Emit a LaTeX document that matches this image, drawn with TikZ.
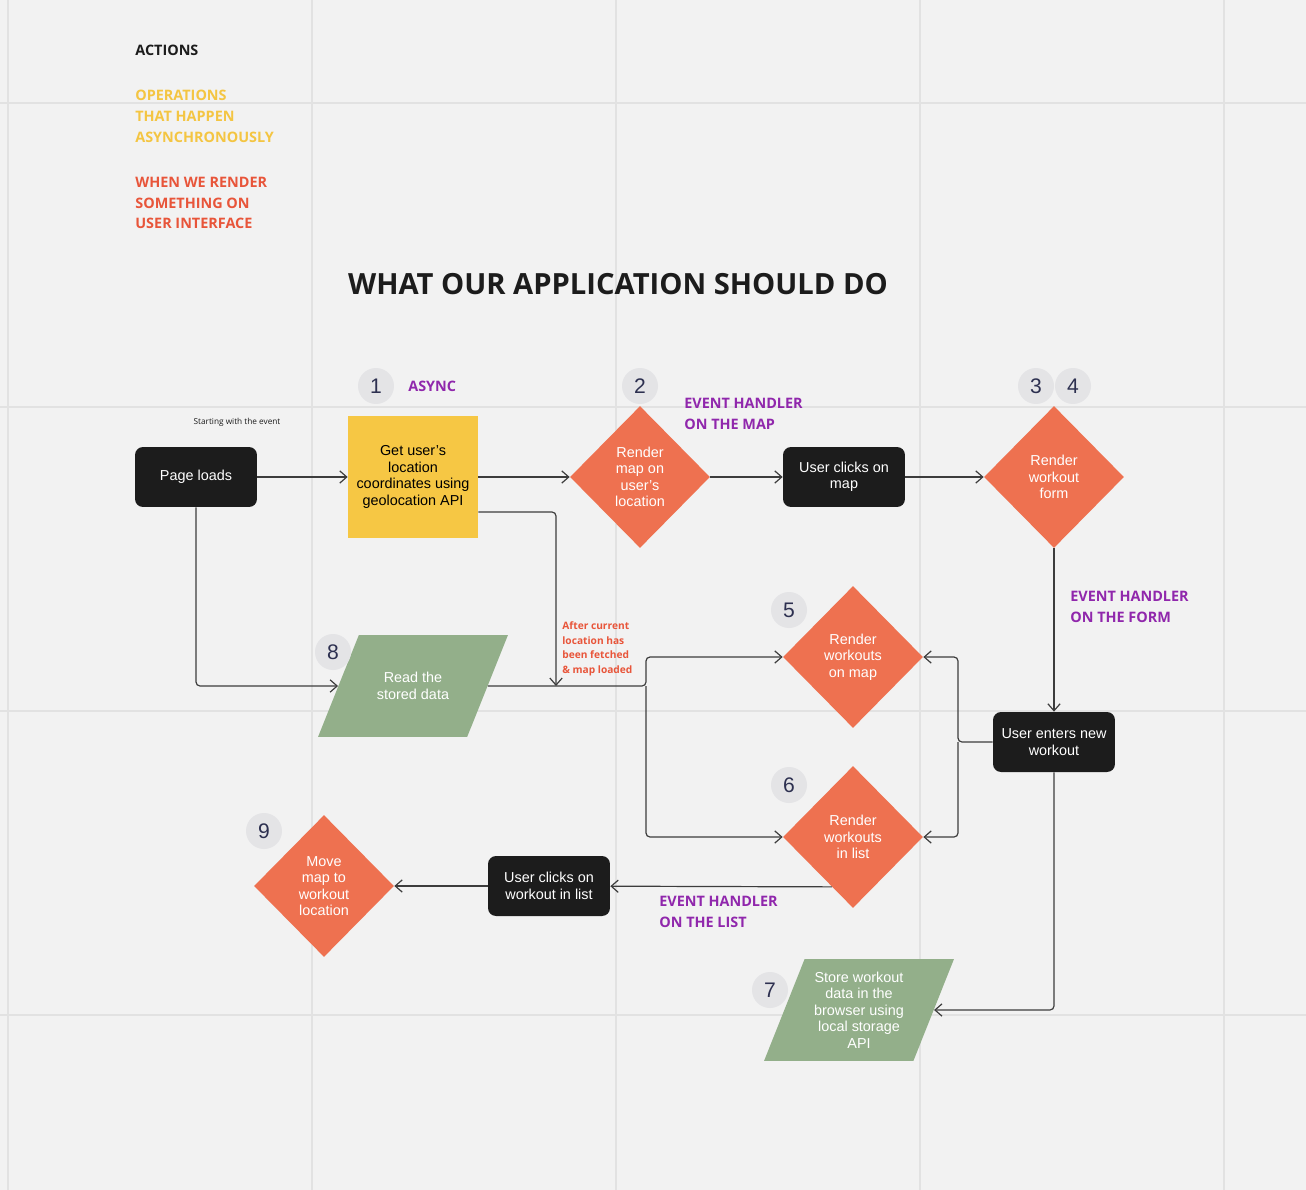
\documentclass[tikz,border=0pt]{standalone}
\usepackage{fontspec}
\setmainfont{Liberation Sans}
\newfontfamily\notefont{Open Sans}
\usetikzlibrary{positioning,shapes.geometric,arrows.meta}

\definecolor{boardbg}{HTML}{F2F2F2}
\definecolor{boardgrid}{HTML}{E2E2E2}
\definecolor{boxblack}{HTML}{1C1C1C}
\definecolor{asyncyellow}{HTML}{F6C744}
\definecolor{renderorange}{HTML}{EE7150}
\definecolor{storegreen}{HTML}{93AF8A}
\definecolor{handlerpurple}{HTML}{9027AC}
\definecolor{noteyellow}{HTML}{F4C542}
\definecolor{notered}{HTML}{E8553A}
\definecolor{numgrey}{HTML}{E4E4E6}
\definecolor{numnavy}{HTML}{2D3050}
\definecolor{flowgrey}{HTML}{3D3D3D}

\newcommand{\nodesize}{\fontsize{8.2}{9.4}\selectfont}
\newcommand{\notesize}{\notefont\bfseries\fontsize{8.2}{11.9}\selectfont}

\begin{document}
\begin{tikzpicture}[x=0.02cm, y=-0.02cm,
		>={Straight Barb[length=4pt,width=7pt]},
		gridline/.style={draw=boardgrid, line width=0.04cm},
		action/.style={rectangle, fill=boxblack, text=white, rounded corners=0.16cm, minimum width=2.44cm, minimum height=1.2cm, inner sep=0pt, align=center, font=\nodesize},
		async/.style={rectangle, fill=asyncyellow, text=black, minimum width=2.6cm, minimum height=2.44cm, inner sep=0pt, align=center, font=\nodesize},
		render/.style={diamond, fill=renderorange, text=white, minimum width=2.8cm, minimum height=2.84cm, inner sep=0pt, align=center, font=\nodesize},
		datastore/.style={trapezium, trapezium left angle=68, trapezium right angle=112, trapezium stretches body=true, fill=storegreen, text=white, minimum width=3.8cm, minimum height=2.04cm, inner xsep=0pt, align=center, font=\nodesize},
		stepnum/.style={circle, fill=numgrey, text=numnavy, minimum size=0.72cm, inner sep=0pt, font=\fontsize{12}{12}\selectfont},
		note/.style={anchor=west, inner sep=0pt, align=left, font=\notesize},
		flow/.style={->, draw=flowgrey, line width=0.024cm, rounded corners=0.08cm}]

	\fill[boardbg] (0,0) rectangle (1306,1190);
	\useasboundingbox (0,0) rectangle (1306,1190);
	\foreach \gx in {8,312,616,920,1224}
		\draw[gridline] (\gx,0) -- (\gx,1190);
	\foreach \gy in {103,407,711,1015}
		\draw[gridline] (0,\gy) -- (1306,\gy);

	\node[note, text=boxblack] (actions) at (135,50) {ACTIONS};
	\node[note, text=noteyellow] (asyncnote) at (135,116) {OPERATIONS\\THAT HAPPEN\\ASYNCHRONOUSLY};
	\node[note, text=notered] (rendernote) at (135,203) {WHEN WE RENDER\\SOMETHING ON\\USER INTERFACE};
	\node[font=\notefont\bfseries\fontsize{16.6}{20}\selectfont, text=boxblack] (title) at (618,284) {WHAT OUR APPLICATION SHOULD DO};

	\node[font=\notefont\fontsize{4.7}{5}\selectfont, text=boxblack] (start) at (237,422) {Starting with the event};
	\node[note, text=handlerpurple] (asynctag) at (408,386) {ASYNC};
	\node[note, text=handlerpurple] (maphandler) at (684,413.5) {EVENT HANDLER\\ON THE MAP};
	\node[note, text=handlerpurple] (formhandler) at (1070,606.5) {EVENT HANDLER\\ON THE FORM};
	\node[note, text=handlerpurple] (listhandler) at (659,911.5) {EVENT HANDLER\\ON THE LIST};
	\node[note, text=notered, font=\notefont\bfseries\fontsize{5.8}{8.3}\selectfont] (fetchnote) at (562,649) {After current\\location has\\been fetched\\\& map loaded};

	\node[action] (page) at (196,477) {Page loads};
	\node[async] (geo) at (413,477) {Get user's\\location\\coordinates using\\geolocation API};
	\node[render] (mapd) at (640,477) {Render\\map on\\user's\\location};
	\node[action] (click) at (844,477) {User clicks on\\map};
	\node[render] (formd) at (1054,477) {Render\\workout\\form};
	\node[action] (enter) at (1054,742) {User enters new\\workout};
	\node[render] (mapw) at (853,657) {Render\\workouts\\on map};
	\node[render] (listw) at (853,837) {Render\\workouts\\in list};
	\node[datastore, inner ysep=0.74cm] (read) at (413,686) {Read the\\stored data};
	\node[datastore, inner ysep=0.24cm] (store) at (859,1010) {Store workout\\data in the\\browser using\\local storage\\API};
	\node[action] (listclick) at (549,886) {User clicks on\\workout in list};
	\node[render] (movd) at (324,886) {Move\\map to\\workout\\location};

	\node[stepnum] (n1) at (376,386) {1};
	\node[stepnum] (n2) at (640,386) {2};
	\node[stepnum] (n3) at (1036,386) {3};
	\node[stepnum] (n4) at (1073,386) {4};
	\node[stepnum] (n5) at (789,610) {5};
	\node[stepnum] (n6) at (789,785) {6};
	\node[stepnum] (n7) at (770,990) {7};
	\node[stepnum] (n8) at (333,652) {8};
	\node[stepnum] (n9) at (264,831) {9};

	\coordinate (fetched) at (556,686);
	\coordinate (split) at (646,686);
	\coordinate (merge) at (958,742);

	\draw[flow] (page) -- (geo);
	\draw[flow] (geo) -- (mapd);
	\draw[flow] (mapd) -- (click);
	\draw[flow] (click) -- (formd);
	\draw[flow] (formd) -- (enter);
	\draw[flow] (page) |- (read);
	\draw[flow] ([yshift=-0.7cm]geo.east) -| (fetched);
	\draw[flow] (read) -- (split) |- (mapw);
	\draw[flow] (split) |- (listw);
	\draw[flow] (enter) -- (merge) |- (mapw);
	\draw[flow] (merge) |- (listw);
	\draw[flow] (enter) |- (store);
	\draw[flow] (listw.247) -- (listclick);
	\draw[flow] (listclick) -- (movd);

\end{tikzpicture}
\end{document}
